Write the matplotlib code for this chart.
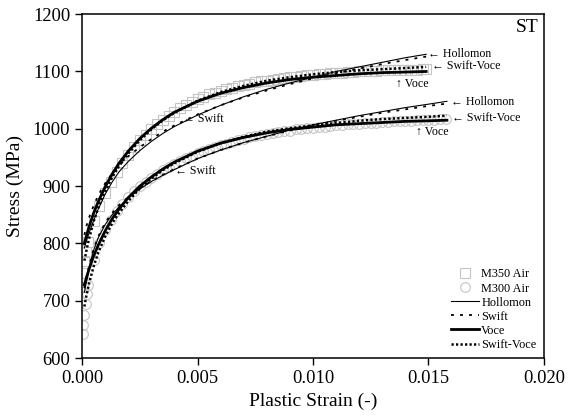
import numpy as np
import matplotlib
matplotlib.use('Agg')
from matplotlib import pyplot as plt

plt.rcParams['font.family'] = ['Liberation Serif', 'DejaVu Serif']

# experimental data, strain in 1e-4
m350_strain = [0.2, 0.5, 1, 1.5, 2.5, 5, 7.5, 10, 12.5, 15, 17.5, 20, 22.5, 25, 27.5, 30,
               32.5, 35, 37.5, 40, 42.5, 45, 47.5, 50, 52.5, 55, 57.5, 60, 62.5, 65, 67.5,
               70, 72.5, 75, 77.5, 80, 82.5, 85, 87.5, 90, 92.5, 95, 97.5, 100, 102.5, 105,
               107.5, 110, 112.5, 115, 117.5, 120, 122.5, 125, 127.5, 130, 132.5, 135,
               137.5, 140, 142.5, 145, 147.5, 149]
m350_stress = [725, 748, 770, 785, 803, 840, 866, 888, 907, 925, 941, 955, 968, 980, 990, 999,
               1008, 1016, 1023, 1030, 1036, 1042, 1047, 1052, 1056, 1060, 1063, 1066, 1069,
               1072, 1074, 1077, 1079, 1081, 1083, 1084, 1086, 1087, 1089, 1090, 1091, 1092,
               1093, 1094, 1095, 1096, 1097, 1097, 1098, 1099, 1099, 1100, 1100, 1101, 1101,
               1102, 1102, 1102, 1103, 1103, 1103, 1103, 1104, 1104]

m300_strain = [0.3, 0.6, 1, 1.5, 2, 2.5, 5, 7.5, 10, 12.5, 15, 17.5, 20, 22.5, 25, 27.5, 30,
               32.5, 35, 37.5, 40, 42.5, 45, 47.5, 50, 52.5, 55, 57.5, 60, 62.5, 65, 67.5,
               70, 72.5, 75, 77.5, 80, 82.5, 85, 87.5, 90, 92.5, 95, 97.5, 100, 102.5, 105,
               107.5, 110, 112.5, 115, 117.5, 120, 122.5, 125, 127.5, 130, 132.5, 135,
               137.5, 140, 142.5, 145, 147.5, 150, 152.5, 155, 157.5]
m300_stress = [643, 658, 675, 695, 712, 728, 772, 801, 823, 841, 856, 869, 881, 891, 900, 908,
               915, 922, 928, 934, 939, 944, 949, 953, 957, 961, 965, 968, 971, 974, 977,
               980, 982, 985, 987, 989, 991, 993, 994, 996, 997, 999, 1000, 1001, 1002,
               1003, 1004, 1005, 1006, 1007, 1008, 1008, 1009, 1010, 1010, 1011, 1012, 1012,
               1013, 1013, 1014, 1014, 1015, 1015, 1016, 1016, 1017, 1017]

# fitted curves
fit_strain_a = [1, 2, 3, 5, 7, 10, 13, 16, 20, 25, 30, 35, 40, 50, 60, 70, 80, 90, 100,
                110, 120, 130, 140, 149]
a_hollomon = [792, 806, 818, 840, 860, 886, 907, 925, 943, 962, 978, 992, 1004, 1024, 1041,
              1056, 1069, 1080, 1090, 1100, 1108, 1116, 1124, 1130]
a_swift = [815, 832, 845, 866, 884, 905, 922, 936, 952, 968, 982, 995, 1006, 1025, 1041,
           1055, 1067, 1078, 1088, 1097, 1105, 1113, 1120, 1126]
a_voce = [800, 815, 829, 853, 873, 899, 921, 940, 961, 983, 1001, 1016, 1029, 1048, 1062,
          1072, 1080, 1086, 1090, 1093, 1096, 1098, 1099, 1100]
a_swiftvoce = [770, 790, 808, 838, 862, 891, 915, 935, 957, 980, 999, 1015, 1028, 1049, 1064,
               1075, 1084, 1090, 1095, 1099, 1102, 1104, 1106, 1108]

fit_strain_b = [1, 2, 3, 5, 7, 10, 13, 16, 20, 25, 30, 35, 40, 50, 60, 70, 80, 90, 100,
                110, 120, 130, 140, 150, 158]
b_hollomon = [715, 735, 757, 788, 810, 833, 850, 864, 879, 895, 908, 919, 929, 948, 963,
              976, 987, 998, 1007, 1015, 1023, 1030, 1037, 1043, 1048]
b_swift = [722, 742, 760, 790, 812, 836, 853, 867, 881, 896, 909, 920, 930, 948, 963, 976,
           987, 997, 1006, 1014, 1021, 1028, 1034, 1040, 1044]
b_voce = [728, 742, 755, 778, 797, 822, 843, 860, 880, 900, 916, 930, 942, 961, 975, 985,
          993, 999, 1003, 1007, 1009, 1011, 1013, 1014, 1015]
b_swiftvoce = [690, 712, 730, 760, 784, 812, 835, 853, 874, 896, 913, 928, 940, 960, 975,
               986, 995, 1001, 1006, 1010, 1014, 1017, 1019, 1021, 1023]

fig = plt.figure(figsize=(5.78, 4.16), dpi=100)
ax = fig.add_axes([0.142, 0.139, 0.799, 0.827])

grey = '#c4c4c4'
ax.plot(np.array(m350_strain)*1e-4, m350_stress, 's', ms=6.5, mfc='none', mec=grey,
        mew=0.8, label='M350 Air')
ax.plot(np.array(m300_strain)*1e-4, m300_stress, 'o', ms=7, mfc='none', mec=grey,
        mew=0.8, label='M300 Air')

sty = {'hollomon': dict(color='k', lw=0.8, ls='-'),
       'swift': dict(color='k', lw=1.3, ls=(0, (1.6, 3.4))),
       'voce': dict(color='k', lw=2.0, ls='-'),
       'swiftvoce': dict(color='k', lw=1.8, ls=(0, (0.9, 0.9)))}

xa = np.array(fit_strain_a)*1e-4
xb = np.array(fit_strain_b)*1e-4
ax.plot(xa, a_hollomon, label='Hollomon', **sty['hollomon'])
ax.plot(xa, a_swift, label='Swift', **sty['swift'])
ax.plot(xa, a_voce, label='Voce', **sty['voce'])
ax.plot(xa, a_swiftvoce, label='Swift-Voce', **sty['swiftvoce'])
ax.plot(xb, b_hollomon, **sty['hollomon'])
ax.plot(xb, b_swift, **sty['swift'])
ax.plot(xb, b_voce, **sty['voce'])
ax.plot(xb, b_swiftvoce, **sty['swiftvoce'])

fs = 8.6
ax.text(0.00437, 1018, '← Swift', fontsize=fs, va='center')
ax.text(0.00403, 927, '← Swift', fontsize=fs, va='center')
ax.text(0.01498, 1131, '← Hollomon', fontsize=fs, va='center')
ax.text(0.01515, 1110, '← Swift-Voce', fontsize=fs, va='center')
ax.text(0.01359, 1079, '↑ Voce', fontsize=fs, va='center')
ax.text(0.01597, 1046, '← Hollomon', fontsize=fs, va='center')
ax.text(0.0160, 1019, '← Swift-Voce', fontsize=fs, va='center')
ax.text(0.01446, 995, '↑ Voce', fontsize=fs, va='center')
ax.text(0.01975, 1176, 'ST', fontsize=14, ha='right', va='center')

ax.set_xlim(0, 0.02)
ax.set_ylim(600, 1200)
ax.set_xticks([0, 0.005, 0.01, 0.015, 0.02])
ax.set_xticklabels(['0.000', '0.005', '0.010', '0.015', '0.020'])
ax.set_yticks(range(600, 1201, 100))
ax.tick_params(labelsize=13.3, direction='out', length=5, width=1)
for s in ax.spines.values():
    s.set_linewidth(1.1)
ax.set_xlabel('Plastic Strain (-)', fontsize=14, labelpad=4)
ax.set_ylabel('Stress (MPa)', fontsize=14, labelpad=6)

ax.legend(loc='lower right', frameon=False, fontsize=8.8, handlelength=2.35,
          labelspacing=0.17, handletextpad=0.15, borderaxespad=0.2)

fig.savefig('out.png', dpi=100)
